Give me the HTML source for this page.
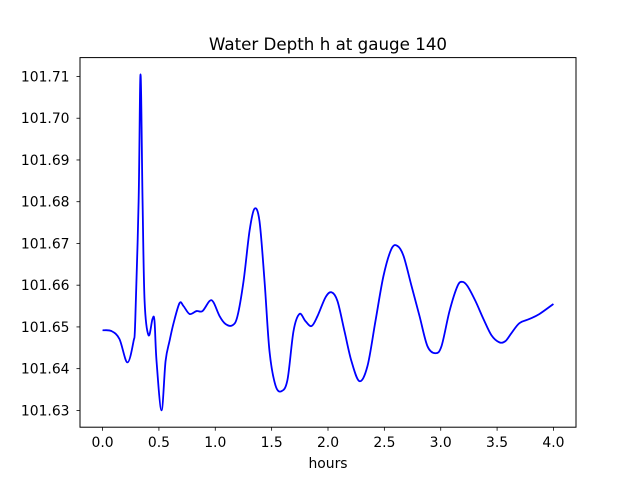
<!DOCTYPE html>
<html><head><meta charset="utf-8"><style>
body{margin:0;background:#fff;}
svg{display:block;font-family:"DejaVu Sans","Liberation Sans",sans-serif;}
</style></head><body>
<svg id="chart" width="640" height="480" viewBox="0 0 640 480" xmlns="http://www.w3.org/2000/svg">
<rect width="640" height="480" fill="#fff"/>
<text x="328" y="50" font-size="16.7" text-anchor="middle" fill="#000">Water Depth h at gauge 140</text>
<g id="axes"></g>
<rect x="80" y="57.6" width="496" height="369.6" fill="none" stroke="#000" stroke-width="1"/>
<text x="328" y="468" font-size="13.9" text-anchor="middle">hours</text>
</svg>
<script>
const hours=[0.0,0.08,0.15,0.22,0.275,0.29,0.32,0.337,0.355,0.373,0.408,0.443,0.461,0.479,0.523,0.559,0.594,0.63,0.683,0.718,0.772,0.834,0.887,0.949,0.984,1.038,1.091,1.153,1.197,1.251,1.304,1.348,1.392,1.437,1.481,1.534,1.588,1.641,1.694,1.747,1.8,1.854,1.907,1.978,2.031,2.084,2.146,2.208,2.279,2.35,2.421,2.492,2.563,2.616,2.67,2.741,2.812,2.882,2.953,3.007,3.078,3.149,3.193,3.237,3.308,3.379,3.45,3.521,3.574,3.627,3.698,3.787,3.876,4.0];
const depth=[101.6492,101.6490,101.6471,101.6415,101.6466,101.6514,101.6802,101.7105,101.6802,101.6562,101.6480,101.6519,101.6514,101.6418,101.6300,101.6418,101.6466,101.6509,101.6557,101.6550,101.6531,101.6538,101.6538,101.6562,101.6559,101.6526,101.6507,101.6504,101.6526,101.6610,101.6730,101.6783,101.6754,101.6610,101.6442,101.6360,101.6346,101.6374,101.6490,101.6531,101.6514,101.6502,101.6526,101.6571,101.6583,101.6562,101.6490,101.6418,101.6370,101.6406,101.6514,101.6622,101.6687,101.6694,101.6670,101.6598,101.6526,101.6454,101.6437,101.6454,101.6538,101.6598,101.6608,101.6598,101.6562,101.6519,101.6480,101.6463,101.6466,101.6485,101.6509,101.6519,101.6531,101.6555];
const xTicks=[0.0,0.5,1.0,1.5,2.0,2.5,3.0,3.5,4.0];
const yTicks=[101.63,101.64,101.65,101.66,101.67,101.68,101.69,101.70,101.71];
const NS="http://www.w3.org/2000/svg";
const L=80,R=576,T=57.6,B=427.2;
const xMin=-0.2,xMax=4.2;
const yMin=Math.min(...depth),yMax=Math.max(...depth),yPad=(yMax-yMin)*0.05;
const y0=yMin-yPad,y1=yMax+yPad;
const sx=v=>L+(v-xMin)/(xMax-xMin)*(R-L);
const sy=v=>B-(v-y0)/(y1-y0)*(B-T);
const svg=document.getElementById('chart');
const axes=document.getElementById('axes');
function mk(tag,attrs){const e=document.createElementNS(NS,tag);for(const k in attrs)e.setAttribute(k,attrs[k]);return e;}
xTicks.forEach(t=>{
  const x=sx(t);
  const ln=mk('line',{x1:x,x2:x,y1:B,y2:B+3.5,stroke:'#000','stroke-width':0.8});
  
  
  axes.appendChild(ln);
  const tx=mk('text',{x:x,y:B+20,'font-size':13.9,'text-anchor':'middle'});
  
  
  tx.textContent=t.toFixed(1);axes.appendChild(tx);
});
yTicks.forEach(t=>{
  const y=sy(t);
  const ln=mk('line',{x1:L-3.5,x2:L,y1:y,y2:y,stroke:'#000','stroke-width':0.8});
  
  
  axes.appendChild(ln);
  const tx=mk('text',{x:L-10.5,y:y+5,'font-size':13.9,'text-anchor':'end'});
  
  
  tx.textContent=t.toFixed(2);axes.appendChild(tx);
});
const P=hours.map((h,i)=>[sx(h),sy(depth[i])]);
let d='M'+P[0][0].toFixed(2)+','+P[0][1].toFixed(2);
for(let i=0;i<P.length-1;i++){
  const p0=P[Math.max(0,i-1)],p1=P[i],p2=P[i+1],p3=P[Math.min(P.length-1,i+2)];
  const c1=[p1[0]+(p2[0]-p0[0])/6,p1[1]+(p2[1]-p0[1])/6];
  const c2=[p2[0]-(p3[0]-p1[0])/6,p2[1]-(p3[1]-p1[1])/6];
  d+=' C'+c1[0].toFixed(2)+','+c1[1].toFixed(2)+' '+c2[0].toFixed(2)+','+c2[1].toFixed(2)+' '+p2[0].toFixed(2)+','+p2[1].toFixed(2);
}
const line=mk('path',{d:d,fill:'none',stroke:'#0000ff','stroke-width':1.8,'stroke-linejoin':'round'});


svg.appendChild(line);
</script>
</body></html>
